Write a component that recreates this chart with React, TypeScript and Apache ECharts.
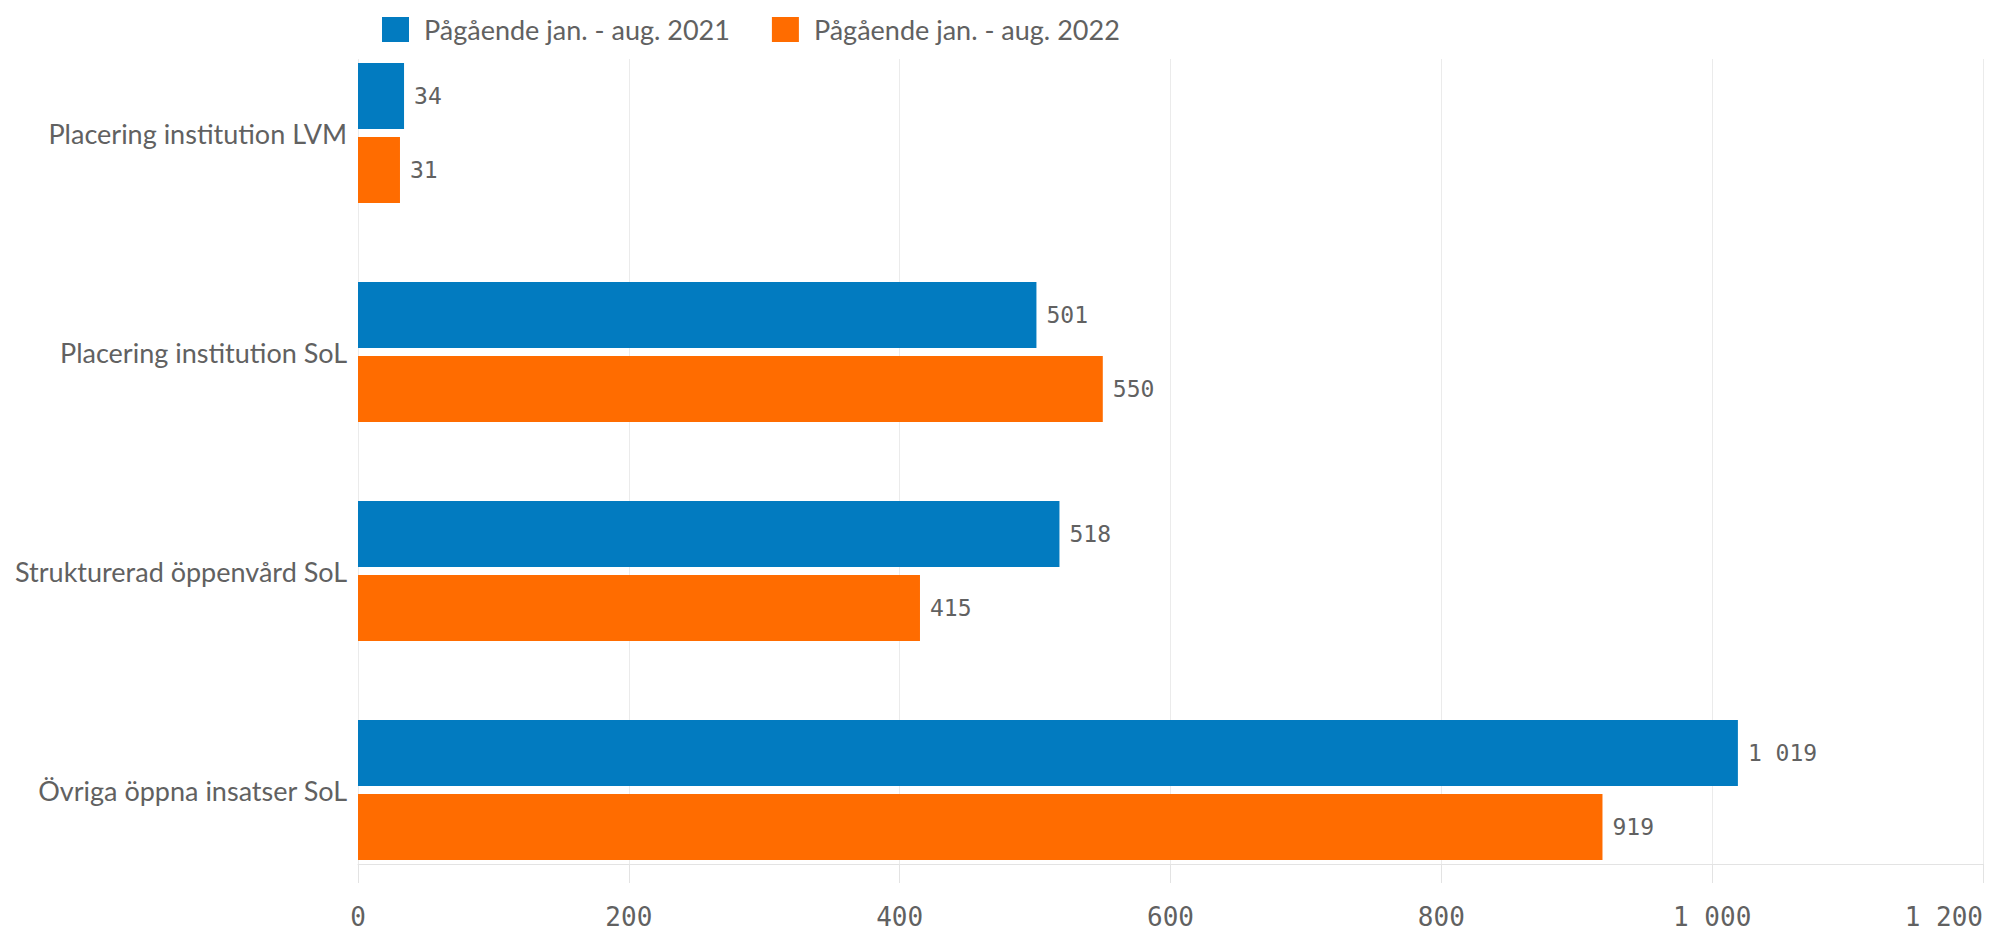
import React, { useEffect, useRef } from "react";
import * as echarts from "echarts";

const categories = [
  "Placering institution LVM",
  "Placering institution SoL",
  "Strukturerad öppenvård SoL",
  "Övriga öppna insatser SoL",
];
const seriesNames = ["Pågående jan. - aug. 2021", "Pågående jan. - aug. 2022"];
const values2021 = [34, 501, 518, 1019];
const values2022 = [31, 550, 415, 919];
const colors = ["#027bc0", "#ff6c00"];
const xMin = 0;
const xMax = 1200;
const xInterval = 200;

const SANS = "Lato, 'Liberation Sans', sans-serif";
const MONO = "'DejaVu Sans Mono', monospace";
const TEXT = "#616161";

const fmt = (v: number) => {
  const s = String(Math.round(v));
  return s.length > 3 ? s.slice(0, s.length - 3) + "\u2009" + s.slice(-3) : s;
};

export default function App() {
  const ref = useRef<HTMLDivElement>(null);
  useEffect(() => {
    document.body.style.margin = "0";
    const chart = echarts.init(ref.current!, null, { renderer: "svg" });
    const barLabel = {
      show: true,
      position: "right",
      distance: 10,
      fontFamily: MONO,
      fontSize: 23,
      color: TEXT,
      formatter: (p: any) => fmt(p.value),
    };
    chart.setOption({
      animation: false,
      backgroundColor: "#ffffff",
      legend: {
        data: seriesNames,
        left: 377,
        top: 11,
        icon: "rect",
        itemWidth: 27,
        itemHeight: 25,
        itemGap: 42,
        textStyle: {
          fontFamily: SANS,
          fontSize: 27,
          color: TEXT,
          padding: [0, 0, 0, 10],
        },
      },
      grid: [
        { left: 358, right: 17, top: 23.5, bottom: 33.5 },
        { left: 358, right: 17, top: 59, bottom: 69 },
      ],
      xAxis: [
        { gridIndex: 0, type: "value", min: xMin, max: xMax, interval: xInterval, show: false },
        {
          gridIndex: 1,
          type: "value",
          min: xMin,
          max: xMax,
          interval: xInterval,
          axisLine: { show: true, lineStyle: { color: "#e3e3e3", width: 1 } },
          axisTick: { show: true, length: 19, lineStyle: { color: "#e3e3e3" } },
          splitLine: { show: true, lineStyle: { color: "#ebebeb", width: 1 } },
          axisLabel: {
            fontFamily: MONO,
            fontSize: 26,
            color: TEXT,
            margin: 40,
            alignMaxLabel: "right",
            formatter: (v: number) => fmt(v),
          },
        },
      ],
      yAxis: [
        {
          gridIndex: 0,
          type: "category",
          data: categories,
          inverse: true,
          axisLine: { show: false },
          axisTick: { show: false },
          splitLine: { show: false },
          axisLabel: { fontFamily: SANS, fontSize: 27, color: TEXT, margin: 11 },
        },
        { gridIndex: 1, type: "value", show: false, min: 0, max: 1 },
      ],
      series: [
        {
          name: seriesNames[0],
          type: "bar",
          xAxisIndex: 0,
          yAxisIndex: 0,
          data: values2021,
          barWidth: 66,
          barGap: "12%",
          itemStyle: { color: colors[0] },
          label: barLabel,
        },
        {
          name: seriesNames[1],
          type: "bar",
          xAxisIndex: 0,
          yAxisIndex: 0,
          data: values2022,
          barWidth: 66,
          barGap: "12%",
          itemStyle: { color: colors[1] },
          label: barLabel,
        },
      ],
    });
    return () => chart.dispose();
  }, []);
  return <div ref={ref} style={{ width: 2000, height: 933 }} />;
}
